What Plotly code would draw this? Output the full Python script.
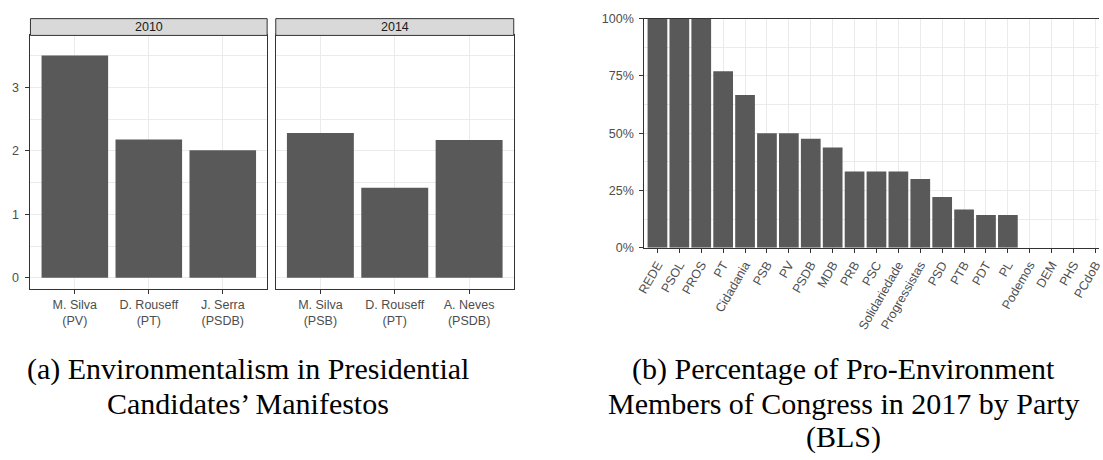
import plotly.graph_objects as go

# ---------------- data ----------------
facet_years = ["2010", "2014"]
cand_2010 = ["M. Silva<br>(PV)", "D. Rouseff<br>(PT)", "J. Serra<br>(PSDB)"]
score_2010 = [3.50, 2.18, 2.01]
cand_2014 = ["M. Silva<br>(PSB)", "D. Rouseff<br>(PT)", "A. Neves<br>(PSDB)"]
score_2014 = [2.28, 1.42, 2.17]

parties = ["REDE", "PSOL", "PROS", "PT", "Cidadania", "PSB", "PV", "PSDB", "MDB",
           "PRB", "PSC", "Solidariedade", "Progressistas", "PSD", "PTB", "PDT",
           "PL", "Podemos", "DEM", "PHS", "PCdoB"]
pro_env_share = [1.0, 1.0, 1.0, 0.77, 0.667, 0.50, 0.50, 0.476, 0.4375,
                 0.333, 0.333, 0.333, 0.30, 0.222, 0.167, 0.143,
                 0.143, 0.0, 0.0, 0.0, 0.0]

caption_a = ["(a) Environmentalism in Presidential", "Candidates\u2019 Manifestos"]
caption_b = ["(b) Percentage of Pro-Environment",
             "Members of Congress in 2017 by Party", "(BLS)"]

# ---------------- styling ----------------
W, H = 1103, 460
BAR = "#595959"
GRID = "#ebebeb"
BORDER = "#333333"
TICKTXT = "#4d4d4d"
SANS = "Liberation Sans, Arial, sans-serif"
SERIF = "Liberation Serif, Times New Roman, serif"


def px_x(p):
    return p / W


def px_y(p):
    return 1 - p / H


fig = go.Figure()
fig.add_trace(go.Bar(x=cand_2010, y=score_2010, marker_color=BAR, marker_line_width=0,
                     xaxis="x", yaxis="y", showlegend=False))
fig.add_trace(go.Bar(x=cand_2014, y=score_2014, marker_color=BAR, marker_line_width=0,
                     xaxis="x2", yaxis="y2", showlegend=False))
fig.add_trace(go.Bar(x=parties, y=pro_env_share, marker_color=BAR, marker_line_width=0,
                     xaxis="x3", yaxis="y3", showlegend=False))

tickfont = dict(family=SANS, size=12.5, color=TICKTXT)

common_x = dict(type="category", showgrid=True, gridcolor=GRID, gridwidth=1.1,
                showline=True, linecolor=BORDER, linewidth=1, mirror=True,
                ticks="outside", ticklen=4, tickcolor=BORDER, tickwidth=1,
                tickfont=tickfont, zeroline=False, fixedrange=True)

left_y_dom = [px_y(291), px_y(29.3)]
yrange_left = [-0.178, 3.817]
common_y = dict(range=yrange_left, tickvals=[0, 1, 2, 3], showgrid=True, gridcolor=GRID,
                gridwidth=1.1, showline=True, linecolor=BORDER, linewidth=1, mirror=True,
                ticks="outside", ticklen=4, tickcolor=BORDER, tickwidth=1,
                tickfont=tickfont, zeroline=False, ticklabelstandoff=4,
                minor=dict(tickvals=[0.5, 1.5, 2.5, 3.5], showgrid=True, gridcolor=GRID,
                           gridwidth=0.55, ticks=""))

fig.update_layout(
    width=W, height=H,
    margin=dict(l=0, r=0, t=0, b=0),
    paper_bgcolor="white", plot_bgcolor="white",
    bargap=0.1,
    xaxis=dict(common_x, domain=[px_x(22.7), px_x(262)], range=[-0.6, 2.6], anchor="y"),
    yaxis=dict(common_y, domain=left_y_dom, anchor="x"),
    xaxis2=dict(common_x, domain=[px_x(270.7), px_x(511.3)], range=[-0.6, 2.6], anchor="y2"),
    yaxis2=dict(common_y, domain=left_y_dom, anchor="x2", showticklabels=False, ticks=""),
    xaxis3=dict(common_x, domain=[px_x(643.3), 1.0], range=[-0.6, 20.16], anchor="y3",
                tickangle=-60),
    yaxis3=dict(domain=[px_y(248.3), px_y(12)], range=[0, 1], anchor="x3",
                tickvals=[0, 0.25, 0.5, 0.75, 1.0], tickformat=".0%",
                showgrid=True, gridcolor=GRID, gridwidth=1.1,
                showline=True, linecolor=BORDER, linewidth=1, mirror=False,
                ticks="outside", ticklen=4, tickcolor=BORDER, tickwidth=1,
                tickfont=tickfont, zeroline=False, ticklabelstandoff=3,
                minor=dict(tickvals=[0.125, 0.375, 0.625, 0.875], showgrid=True,
                           gridcolor=GRID, gridwidth=0.55, ticks="")),
)

# facet strips
for xa, year in zip(["x", "x2"], facet_years):
    fig.add_shape(type="rect", xref=f"{xa} domain", yref="paper",
                  x0=0, x1=1, y0=px_y(29.3), y1=px_y(12),
                  fillcolor="#d9d9d9", line=dict(color=BORDER, width=1), layer="above")
    fig.add_annotation(xref=f"{xa} domain", yref="paper", x=0.5, y=(px_y(29.3) + px_y(12)) / 2,
                       text=year, showarrow=False, xanchor="center", yanchor="middle",
                       font=dict(family=SANS, size=12.5, color="#1a1a1a"))

# captions
cap_y = [373, 409, 443]
for i, line in enumerate(caption_a):
    fig.add_annotation(xref="paper", yref="paper", x=px_x(242.5), y=px_y(cap_y[i]),
                       text=line, showarrow=False, xanchor="center", yanchor="middle",
                       font=dict(family=SERIF, size=30, color="black"))
for i, line in enumerate(caption_b):
    fig.add_annotation(xref="paper", yref="paper", x=px_x(845), y=px_y(cap_y[i]),
                       text=line, showarrow=False, xanchor="center", yanchor="middle",
                       font=dict(family=SERIF, size=30, color="black"))

fig.write_html("out.html")
